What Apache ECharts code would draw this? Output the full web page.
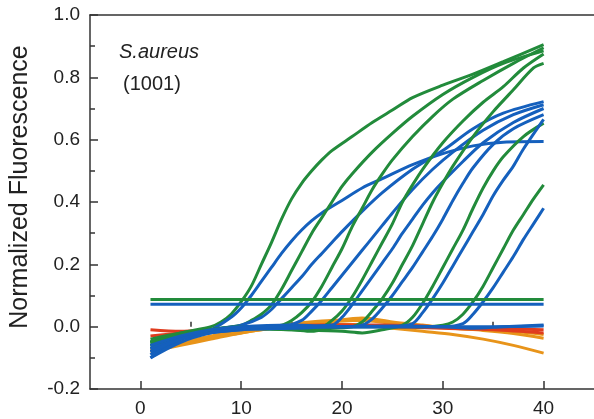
<!DOCTYPE html>
<html>
<head>
<meta charset="utf-8">
<script src="https://cdn.jsdelivr.net/npm/echarts@6/dist/echarts.min.js"></script>
<style>
html,body{margin:0;padding:0;background:#fff;}
#chart{width:594px;height:419px;}
</style>
</head>
<body>
<div id="chart"></div>
<script>
// ---- data: [cycle, normalized fluorescence] ----
const green1 = [[1,-0.05],[4,-0.02],[7,0.0],[8,0.015],[9,0.04],[10,0.08],[11,0.13],[12,0.2],[13,0.27],[14,0.345],[15,0.41],[16,0.46],[17,0.5],[18,0.535],[19,0.565],[21,0.61],[23,0.655],[25,0.695],[27,0.735],[30,0.775],[33,0.81],[36,0.85],[40,0.905]];
const green2 = [[1,-0.04],[4,-0.02],[8,-0.005],[10,0.005],[11,0.02],[12,0.04],[13,0.07],[14,0.12],[15,0.18],[16,0.24],[17,0.3],[18,0.35],[19,0.4],[20,0.45],[21,0.49],[23,0.56],[25,0.62],[27,0.675],[30,0.745],[33,0.8],[36,0.845],[40,0.885]];
const green3 = [[1,-0.06],[5,-0.025],[10,-0.005],[14,0.005],[15,0.02],[16,0.045],[17,0.08],[18,0.13],[19,0.19],[20,0.25],[21,0.32],[22,0.38],[23,0.44],[24,0.49],[25,0.535],[27,0.61],[29,0.675],[31,0.73],[34,0.79],[37,0.845],[40,0.895]];
const green4 = [[1,-0.05],[5,-0.02],[10,0.0],[15,0.0],[18,0.0],[19,0.02],[20,0.05],[21,0.095],[22,0.15],[23,0.21],[24,0.27],[25,0.33],[26,0.4],[27,0.455],[28,0.505],[30,0.59],[32,0.66],[34,0.72],[36,0.77],[38,0.83],[40,0.875]];
const green5 = [[1,-0.05],[5,-0.02],[10,-0.005],[15,-0.01],[17,-0.015],[19,-0.005],[21,0.0],[22,0.015],[23,0.05],[24,0.09],[25,0.14],[26,0.2],[27,0.26],[28,0.33],[29,0.4],[30,0.46],[31,0.515],[33,0.61],[35,0.69],[37,0.76],[39,0.83],[40,0.845]];
const green6 = [[1,-0.06],[5,-0.025],[10,-0.005],[15,-0.01],[20,-0.015],[22,-0.02],[24,-0.01],[26,0.005],[27,0.03],[28,0.075],[29,0.13],[30,0.19],[31,0.25],[32,0.31],[33,0.38],[34,0.445],[35,0.5],[36,0.545],[38,0.61],[40,0.653]];
const green7 = [[1,-0.05],[5,-0.02],[10,-0.005],[15,-0.005],[20,0.0],[25,0.0],[28,0.0],[30,0.005],[31,0.015],[32,0.04],[33,0.08],[34,0.13],[35,0.19],[36,0.25],[37,0.31],[38,0.36],[39,0.41],[40,0.455]];

const blue1 = [[1,-0.1],[4,-0.04],[7,-0.01],[9,0.03],[10,0.06],[11,0.1],[12,0.145],[13,0.19],[14,0.235],[15,0.275],[16,0.31],[17,0.34],[18,0.365],[20,0.405],[22,0.445],[24,0.475],[27,0.52],[30,0.555],[33,0.58],[36,0.592],[40,0.594]];
const blue2 = [[1,-0.09],[4,-0.035],[8,-0.005],[10,0.005],[12,0.03],[13,0.055],[14,0.09],[15,0.125],[16,0.16],[17,0.2],[18,0.235],[19,0.27],[20,0.305],[22,0.37],[24,0.43],[27,0.505],[30,0.565],[33,0.635],[36,0.685],[40,0.722]];
const blue3 = [[1,-0.08],[5,-0.03],[10,-0.005],[14,0.0],[16,0.02],[17,0.05],[18,0.085],[19,0.125],[20,0.165],[21,0.205],[22,0.245],[23,0.285],[24,0.325],[25,0.365],[27,0.44],[29,0.505],[31,0.56],[34,0.63],[37,0.68],[40,0.712]];
const blue4 = [[1,-0.07],[5,-0.03],[10,-0.005],[15,0.0],[19,0.005],[20,0.03],[21,0.07],[22,0.115],[23,0.16],[24,0.205],[25,0.25],[26,0.3],[27,0.345],[28,0.39],[29,0.43],[30,0.465],[32,0.53],[34,0.59],[37,0.655],[40,0.70]];
const blue5 = [[1,-0.06],[5,-0.025],[10,-0.005],[15,0.0],[20,0.0],[22,0.005],[23,0.025],[24,0.06],[25,0.1],[26,0.145],[27,0.19],[28,0.24],[29,0.29],[30,0.345],[31,0.405],[32,0.46],[33,0.51],[35,0.585],[37,0.635],[40,0.68]];
const blue6 = [[1,-0.07],[5,-0.03],[10,-0.01],[15,-0.005],[20,0.0],[25,0.0],[27,0.01],[28,0.045],[29,0.09],[30,0.14],[31,0.195],[32,0.25],[33,0.305],[34,0.36],[35,0.42],[36,0.47],[37,0.515],[38,0.57],[40,0.665]];
const blue7 = [[1,-0.08],[5,-0.03],[10,-0.01],[15,-0.005],[20,0.0],[25,0.0],[30,0.0],[32,0.01],[33,0.04],[34,0.08],[35,0.125],[36,0.175],[37,0.225],[38,0.28],[39,0.33],[40,0.38]];

const orange1 = [[1,-0.08],[4,-0.06],[7,-0.04],[10,-0.02],[13,-0.005],[16,0.005],[19,0.01],[22,0.005],[25,-0.005],[28,-0.015],[31,-0.025],[34,-0.04],[37,-0.06],[40,-0.085]];
const orange2 = [[1,-0.075],[4,-0.055],[7,-0.035],[10,-0.02],[13,-0.005],[16,0.005],[19,0.018],[22,0.028],[25,0.015],[28,0.005],[31,-0.005],[34,-0.012],[37,-0.022],[40,-0.037]];
const orange3 = [[1,-0.07],[4,-0.05],[7,-0.03],[10,-0.012],[13,0.0],[16,0.012],[19,0.02],[22,0.02],[25,0.01],[28,0.0],[31,-0.005],[34,-0.01],[37,-0.015],[40,-0.025]];
const red1 = [[1,-0.01],[4,-0.015],[7,-0.01],[10,-0.005],[15,0.0],[20,0.005],[25,0.0],[30,-0.005],[35,-0.01],[40,-0.02]];
const red2 = [[1,-0.03],[4,-0.02],[8,-0.01],[12,0.0],[18,0.005],[24,0.005],[30,0.0],[35,-0.005],[40,-0.01]];
const blueFlat1 = [[1,-0.06],[4,-0.03],[7,-0.01],[10,0.0],[15,0.005],[20,0.0],[25,0.002],[30,0.0],[33,-0.005],[36,0.0],[40,0.005]];
const blueFlat2 = [[1,-0.1],[4,-0.05],[7,-0.02],[10,-0.005],[15,0.0],[20,0.0],[25,0.0],[30,0.0],[35,0.0],[40,0.002]];

const greenThreshold = [[1,0.087],[40,0.087]];
const blueThreshold = [[1,0.072],[40,0.072]];

const xTickValues = [0,10,20,30,40];
const xMinorTickValues = [5,15,25,35];
const yAxisTitle = 'Normalized Fluorescence';
const organism = 'S.aureus';
const strain = '(1001)';

// ---- styles ----
const GREEN = '#228b3b', BLUE = '#1560bd', ORANGE = '#e8941a', RED = '#e03c1e';
const FONT = "'Liberation Sans', Arial, sans-serif";
const AXC = '#333';

function line(data, color, smooth) {
  return {
    type: 'line', data: data, showSymbol: false, symbol: 'none',
    smooth: smooth === undefined ? 0.3 : smooth, silent: true,
    lineStyle: { color: color, width: 3 }, itemStyle: { color: color },
    xAxisIndex: 0, yAxisIndex: 0
  };
}

const series = [
  line(orange1, ORANGE), line(orange2, ORANGE), line(orange3, ORANGE),
  line(red1, RED), line(red2, RED),
  line(green1, GREEN), line(blue1, BLUE),
  line(green2, GREEN), line(blue2, BLUE),
  line(green3, GREEN), line(blue3, BLUE),
  line(green4, GREEN), line(blue4, BLUE),
  line(green5, GREEN), line(blue5, BLUE),
  line(green6, GREEN), line(blue6, BLUE),
  line(green7, GREEN), line(blue7, BLUE),
  line(blueFlat1, BLUE), line(blueFlat2, BLUE),
  line(greenThreshold, GREEN, false), line(blueThreshold, BLUE, false)
];

const chart = echarts.init(document.getElementById('chart'), null, { renderer: 'canvas' });
chart.setOption({
  animation: false,
  backgroundColor: '#fff',
  grid: { left: 90, top: 15, width: 506, height: 374, containLabel: false },
  xAxis: [
    {
      type: 'value', min: -5, max: 45, position: 'bottom',
      splitLine: { show: false },
      axisLine: { show: true, onZero: false, lineStyle: { color: AXC, width: 1.5 } },
      axisTick: { show: true, inside: true, length: 8, customValues: xTickValues, lineStyle: { color: AXC, width: 1.5 } },
      axisLabel: { show: true, customValues: xTickValues, margin: 10, color: '#222', fontSize: 19, fontFamily: FONT }
    },
    {
      type: 'value', min: -5, max: 45, position: 'bottom',
      splitLine: { show: false },
      axisLine: { show: false },
      axisTick: { show: true, inside: true, length: 5, customValues: xMinorTickValues, lineStyle: { color: AXC, width: 1.5 } },
      axisLabel: { show: false }
    },
    {
      type: 'value', min: -5, max: 45, position: 'top',
      splitLine: { show: false },
      axisLine: { show: true, onZero: false, lineStyle: { color: AXC, width: 1.5 } },
      axisTick: { show: false }, axisLabel: { show: false }
    }
  ],
  yAxis: {
    type: 'value', min: -0.2, max: 1.0, interval: 0.2,
    splitLine: { show: false },
    axisLine: { show: true, onZero: false, lineStyle: { color: AXC, width: 1.5 } },
    axisTick: { show: true, inside: true, length: 8, lineStyle: { color: AXC, width: 1.5 } },
    minorTick: { show: true, splitNumber: 2, length: 5, lineStyle: { color: AXC, width: 1.5 } },
    axisLabel: { margin: 10, color: '#222', fontSize: 19, fontFamily: FONT,
      formatter: v => (Math.round(v * 10) / 10).toFixed(1) },
    name: yAxisTitle, nameLocation: 'middle', nameGap: 57, nameRotate: 90,
    nameTextStyle: { fontSize: 25, color: '#222', fontFamily: FONT, padding: [0, 0, 0, 30] }
  },
  graphic: [
    { type: 'text', left: 119, top: 42, silent: true,
      style: { text: organism, fontSize: 20, fontStyle: 'italic', fontFamily: FONT, fill: '#222' } },
    { type: 'text', left: 123, top: 74, silent: true,
      style: { text: strain, fontSize: 20, fontFamily: FONT, fill: '#222' } }
  ],
  series: series
});
</script>
</body>
</html>
